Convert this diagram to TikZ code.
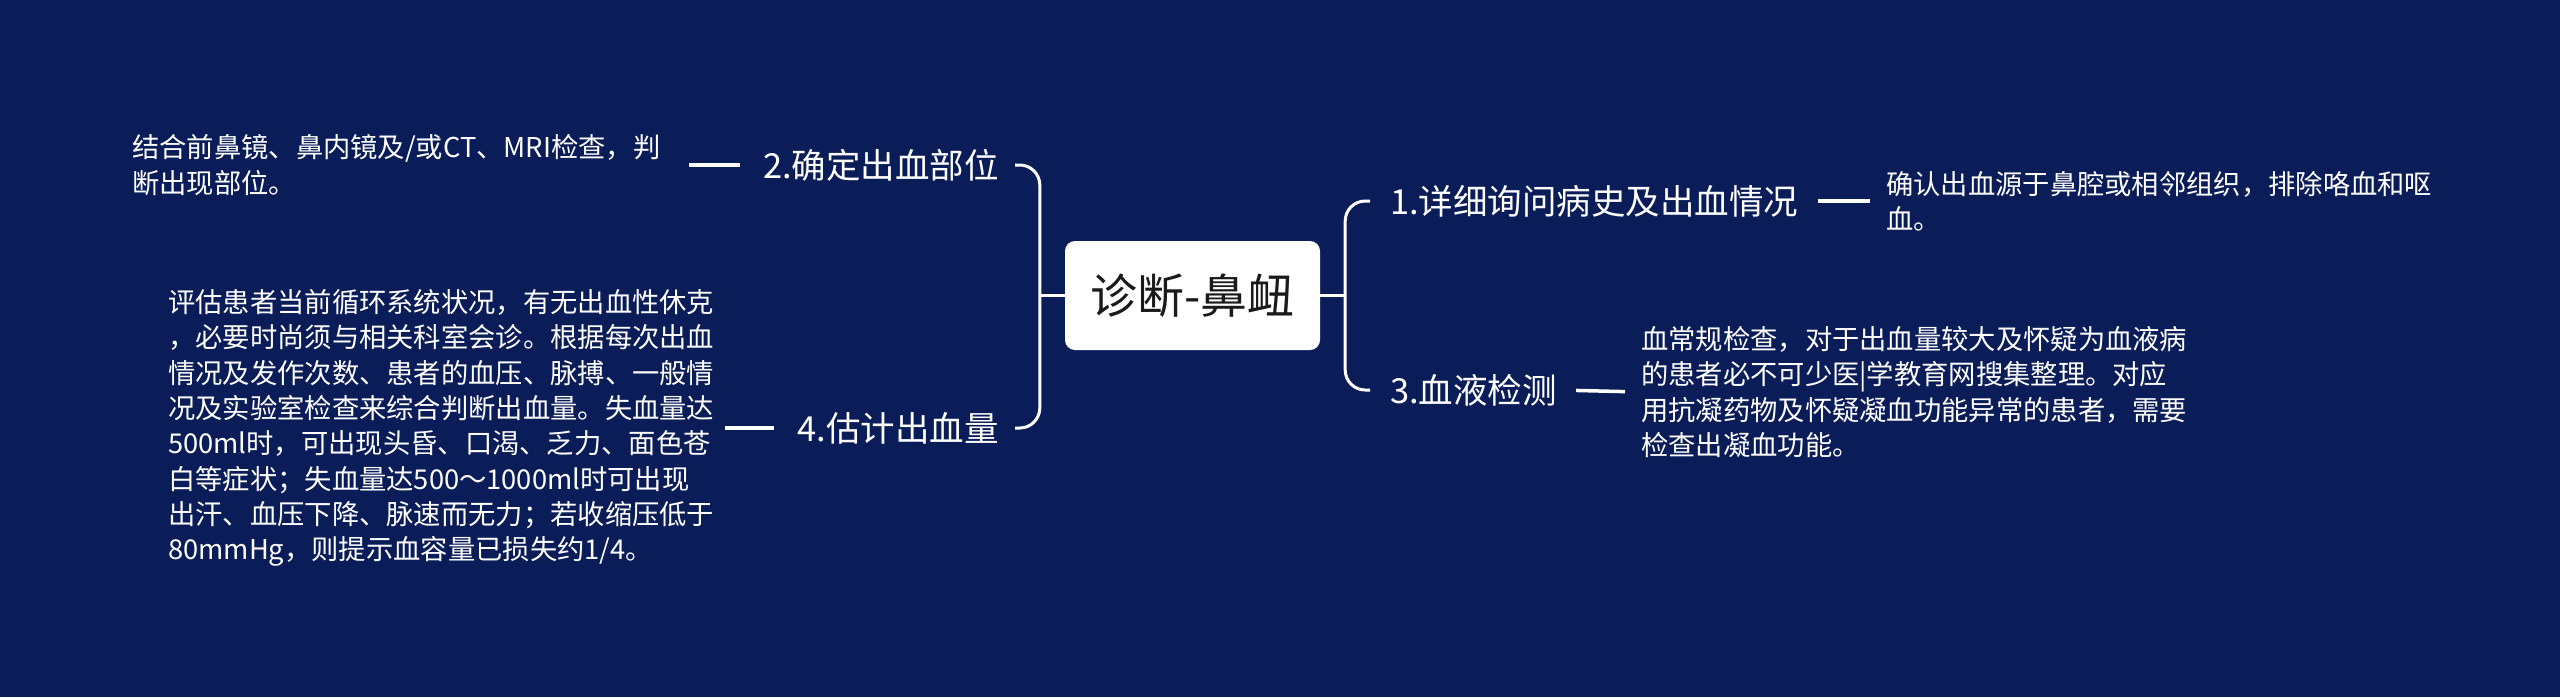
\documentclass[tikz,border=0pt]{standalone}
\usepackage{fontspec}
\newfontfamily\cjk{Noto Sans CJK SC}
\definecolor{bg}{HTML}{0B1D59}
\definecolor{ink}{HTML}{1A1A1A}
\begin{document}
\begin{tikzpicture}[x=1pt,y=-1pt,
  title/.style={font=\cjk\fontsize{34.5}{40}\selectfont, text=white, inner sep=0pt},
  desc/.style={font=\cjk\fontsize{27.3}{35.3}\selectfont, text=white, inner sep=0pt, text width=547pt, align=left},
  link/.style={draw=white, line width=3.5pt},
  branch/.style={draw=white, line width=3pt, rounded corners=20pt}]
\fill[bg] (0,0) rectangle (2560,697);
\useasboundingbox (0,0) rectangle (2560,697);
\node[fill=white, rounded corners=10pt, minimum width=255pt, minimum height=109pt, inner sep=0pt,
      font=\cjk\fontsize{47}{54}\selectfont, text=ink] (root) at (1192.5,295.5) {诊断-鼻衄};
\node[title, anchor=east] (t2) at (999,165) {2.确定出血部位};
\node[title, anchor=east] (t4) at (999,428) {4.估计出血量};
\node[title, anchor=west] (t1) at (1390,201) {1.详细询问病史及出血情况};
\node[title, anchor=west] (t3) at (1390,390) {3.血液检测};
\node[desc, anchor=west] (d2) at (132,165) {结合前鼻镜、鼻内镜及/或CT、MRI检查，判\\断出现部位。};
\node[desc, anchor=west] (d4) at (168,428) {评估患者当前循环系统状况，有无出血性休克\\，必要时尚须与相关科室会诊。根据每次出血\\情况及发作次数、患者的血压、脉搏、一般情\\况及实验室检查来综合判断出血量。失血量达\\500ml时，可出现头昏、口渴、乏力、面色苍\\白等症状；失血量达500～1000ml时可出现\\出汗、血压下降、脉速而无力；若收缩压低于\\80mmHg，则提示血容量已损失约1/4。};
\node[desc, anchor=west] (d1) at (1886,201) {确认出血源于鼻腔或相邻组织，排除咯血和呕\\血。};
\node[desc, anchor=west] (d3) at (1641,392) {血常规检查，对于出血量较大及怀疑为血液病\\的患者必不可少医|学教育网搜集整理。对应\\用抗凝药物及怀疑凝血功能异常的患者，需要\\检查出凝血功能。};
\draw[link, shorten <=10pt, shorten >=23pt] (d2.east) -- (t2.west);
\draw[link, shorten <=10pt, shorten >=23pt] (d4.east) -- (t4.west);
\draw[link, shorten <=19pt, shorten >=16pt] (t1.east) -- (d1.west);
\draw[link, shorten <=19pt, shorten >=16pt] (t3.east) -- (d3.west);
\draw[branch] ([xshift=16pt]t2.east) -| ([xshift=-25pt]root.west) |- ([xshift=16pt]t4.east);
\draw[branch] (root.west) -- ([xshift=-25pt]root.west);
\draw[branch] ([xshift=-20pt]t1.west) -| ([xshift=25pt]root.east) |- ([xshift=-20pt]t3.west);
\draw[branch] (root.east) -- ([xshift=25pt]root.east);
\end{tikzpicture}
\end{document}
